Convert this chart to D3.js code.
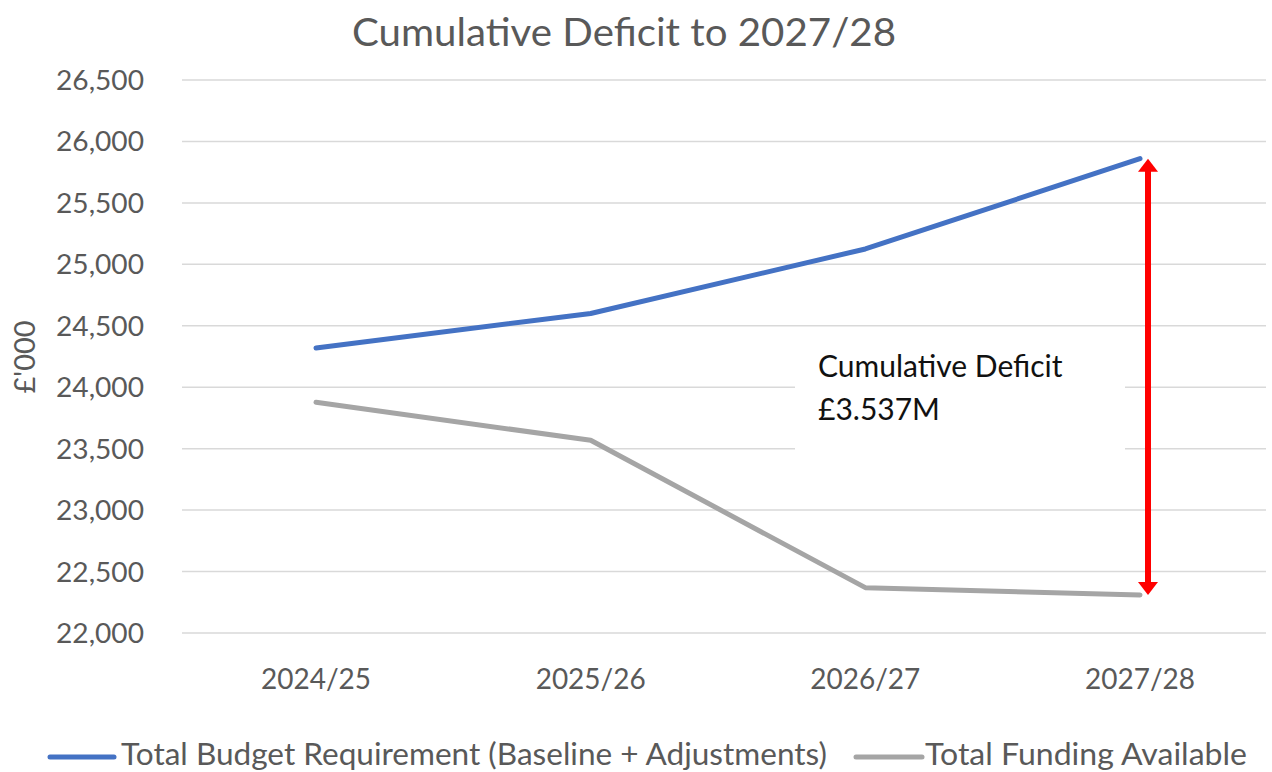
<!DOCTYPE html>
<html>
<head>
<meta charset="utf-8">
<script src="https://cdn.jsdelivr.net/npm/d3@7"></script>
<style>
  body { margin: 0; background: #fff; }
  svg { display: block; font-family: Lato, "Open Sans", sans-serif; }
</style>
</head>
<body>
<div id="chart"></div>
<script>
// data
var years = ["2024/25", "2025/26", "2026/27", "2027/28"];
var budget = [24320, 24600, 25125, 25860];
var funding = [23877, 23568, 22369, 22310];
var yTicks = [22000, 22500, 23000, 23500, 24000, 24500, 25000, 25500, 26000, 26500];
var seriesNames = ["Total Budget Requirement (Baseline + Adjustments)", "Total Funding Available"];
var seriesColors = ["#4472C4", "#A5A5A5"];
var deficitLabel = ["Cumulative Deficit", "£3.537M"];

var W = 1272, H = 772;
var svg = d3.select("#chart").append("svg").attr("width", W).attr("height", H);

var x = d3.scalePoint().domain(years).range([316, 1140]);
var y = d3.scaleLinear().domain([22000, 26500]).range([633, 80]);

// title
svg.append("text").attr("x", 624).attr("y", 46).attr("text-anchor", "middle")
  .attr("font-size", 38).attr("fill", "#595959")
  .attr("textLength", 544).attr("lengthAdjust", "spacingAndGlyphs")
  .text("Cumulative Deficit to 2027/28");

// gridlines
svg.append("g").selectAll("line").data(yTicks).join("line")
  .attr("x1", 182).attr("x2", 1266)
  .attr("y1", function (d) { return y(d); }).attr("y2", function (d) { return y(d); })
  .attr("stroke", "#D9D9D9").attr("stroke-width", 1.5);

// y axis labels
var fmt = d3.format(",");
svg.append("g").selectAll("text").data(yTicks).join("text")
  .attr("x", 144).attr("y", function (d) { return y(d) + 10; })
  .attr("text-anchor", "end").attr("font-size", 27).attr("fill", "#595959")
  .attr("textLength", 88).attr("lengthAdjust", "spacingAndGlyphs")
  .text(function (d) { return fmt(d); });

// y axis title
svg.append("text").attr("transform", "translate(35,357) rotate(-90)")
  .attr("text-anchor", "middle").attr("font-size", 29).attr("fill", "#595959").text("£'000");

// x axis labels
svg.append("g").selectAll("text").data(years).join("text")
  .attr("x", function (d) { return x(d); }).attr("y", 689)
  .attr("text-anchor", "middle").attr("font-size", 29).attr("fill", "#595959")
  .attr("textLength", 110).attr("lengthAdjust", "spacingAndGlyphs")
  .text(function (d) { return d; });

// label box over gridlines
svg.append("rect").attr("x", 795).attr("y", 335).attr("width", 330).attr("height", 117).attr("fill", "#fff");
svg.append("g").selectAll("text").data(deficitLabel).join("text")
  .attr("x", 818).attr("y", function (d, i) { return 377 + i * 43; })
  .attr("font-size", 30).attr("fill", "#111")
  .text(function (d) { return d; });

// lines
var line = d3.line().x(function (d, i) { return x(years[i]); }).y(function (d) { return y(d); });
[budget, funding].forEach(function (s, i) {
  svg.append("path").datum(s).attr("d", line).attr("fill", "none")
    .attr("stroke", seriesColors[i]).attr("stroke-width", 5).attr("stroke-linecap", "round")
    .attr("stroke-linejoin", "round");
});

// red double arrow between the last values
var arrowX = 1148, arrowTop = y(budget[3]), arrowBot = y(funding[3]);
svg.append("line").attr("x1", arrowX).attr("x2", arrowX).attr("y1", arrowTop + 10).attr("y2", arrowBot - 10)
  .attr("stroke", "#FF0000").attr("stroke-width", 6);
svg.append("path").attr("d", "M" + arrowX + "," + arrowTop + " l-10,13 l20,0 Z").attr("fill", "#FF0000");
svg.append("path").attr("d", "M" + arrowX + "," + arrowBot + " l-10,-13 l20,0 Z").attr("fill", "#FF0000");

// legend
var legX = [[50, 114, 121, 706], [856, 922, 925, 322]];
seriesNames.forEach(function (n, i) {
  var p = legX[i];
  svg.append("line").attr("x1", p[0]).attr("x2", p[1]).attr("y1", 757).attr("y2", 757)
    .attr("stroke", seriesColors[i]).attr("stroke-width", 5).attr("stroke-linecap", "round");
  svg.append("text").attr("x", p[2]).attr("y", 765).attr("font-size", 30).attr("fill", "#595959")
    .attr("textLength", p[3]).attr("lengthAdjust", "spacingAndGlyphs").text(n);
});
</script>
</body>
</html>
